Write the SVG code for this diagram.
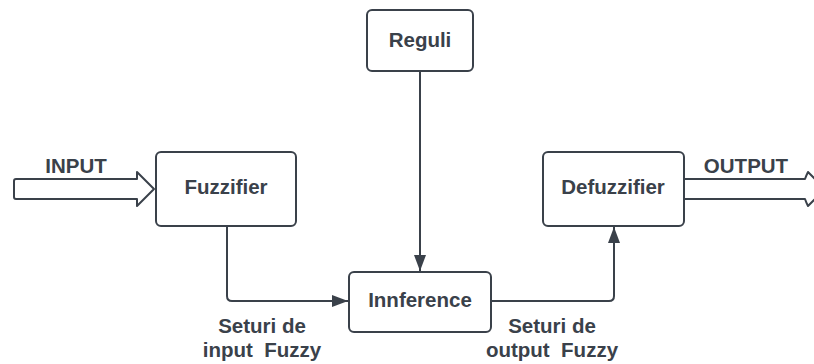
<svg xmlns="http://www.w3.org/2000/svg" width="814" height="364" viewBox="0 0 814 364">
  <style>
    .box { fill: #ffffff; stroke: #3a414a; stroke-width: 2; }
    .lbl { font-family: "Liberation Sans", Arial, sans-serif; font-weight: bold; font-size: 20.5px; fill: #3a414a; text-anchor: middle; }
    .wire { fill: none; stroke: #3a414a; stroke-width: 2; }
    .fat { fill: #ffffff; stroke: #3a414a; stroke-width: 2; stroke-linejoin: round; }
  </style>
  <defs>
    <marker id="arrow" viewBox="0 0 16 12" refX="16" refY="6" markerWidth="8" markerHeight="6" markerUnits="strokeWidth" orient="auto">
      <path d="M0,0 L16,6 L0,12 Z" fill="#3a414a"/>
    </marker>
  </defs>

  <rect width="814" height="364" fill="#ffffff"/>

  <g id="input">
    <path class="fat" d="M16,179 L137,179 L137,172 L154,189 L137,206 L137,199 L16,199 Q14,199 14,197 L14,181 Q14,179 16,179 Z"/>
    <text class="lbl" x="76" y="173">INPUT</text>
  </g>

  <g id="output">
    <path class="fat" d="M684,179 L805,179 Q806,176 808,172 L825,189 L808,206 Q806,202 805,199 L684,199"/>
    <text class="lbl" x="746" y="173">OUTPUT</text>
  </g>

  <g id="reguli">
    <rect class="box" x="367" y="10" width="106" height="61" rx="5"/>
    <text class="lbl" x="420" y="47">Reguli</text>
  </g>

  <g id="fuzzifier">
    <rect class="box" x="156" y="152" width="140" height="74" rx="5"/>
    <text class="lbl" x="226" y="194">Fuzzifier</text>
  </g>

  <g id="defuzzifier">
    <rect class="box" x="543" y="152" width="141" height="74" rx="5"/>
    <text class="lbl" x="613" y="194">Defuzzifier</text>
  </g>

  <g id="inference">
    <rect class="box" x="349" y="272" width="142" height="60" rx="5"/>
    <text class="lbl" x="420" y="307">Innference</text>
  </g>

  <g id="connectors">
    <path class="wire" d="M227,226 L227,296 Q227,301 232,301 L348,301" marker-end="url(#arrow)"/>
    <path class="wire" d="M420,71 L420,271" marker-end="url(#arrow)"/>
    <path class="wire" d="M491,301 L609,301 Q614,301 614,296 L614,227" marker-end="url(#arrow)"/>
  </g>

  <g id="edge-labels">
    <text class="lbl" x="262" y="333">Seturi de</text>
    <text class="lbl" x="262" y="357" xml:space="preserve">input  Fuzzy</text>
    <text class="lbl" x="552" y="333">Seturi de</text>
    <text class="lbl" x="552" y="357" xml:space="preserve">output  Fuzzy</text>
  </g>
</svg>
